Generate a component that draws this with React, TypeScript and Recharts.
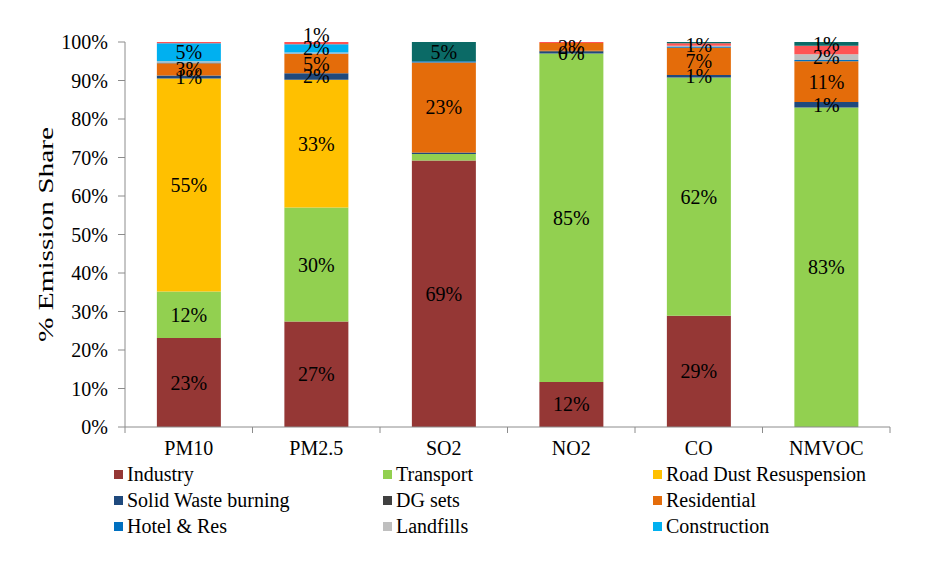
import React from 'react';
import { BarChart, Bar, XAxis, YAxis, LabelList } from 'recharts';

const categories = ['PM10', 'PM2.5', 'SO2', 'NO2', 'CO', 'NMVOC'];

const industry = [23.1, 27.4, 69.2, 11.7, 28.9, 0];
const transport = [12.1, 29.6, 1.7, 85.3, 61.9, 83.0];
const roadDust = [55.3, 33.2, 0, 0, 0, 0];
const solidWaste = [0.8, 1.7, 0.3, 0.45, 0.6, 1.4];
const dgSets = [0, 0, 0.1, 0.3, 0, 0];
const residential = [3.2, 5.0, 23.4, 2.0, 7.1, 10.6];
const hotelRes = [0.2, 0.1, 0.3, 0, 0.3, 0.3];
const landfills = [0.3, 0.3, 0, 0, 0.2, 1.5];
const construction = [4.7, 2.1, 0, 0, 0, 0];
const others = [0.3, 0.6, 0, 0.25, 0.7, 2.2];
const powerPlant = [0, 0, 5.0, 0, 0.3, 1.0];

const yTicks = [0, 10, 20, 30, 40, 50, 60, 70, 80, 90, 100];

// labels removed in the original figure
const hiddenLabels: [string, string][] = [
  ['SO2', 'transport'],
  ['NMVOC', 'others'],
];
// labels dragged above their segment in the original figure
const raisedLabels: [string, string][] = [['PM2.5', 'others']];

const series = [
  { key: 'industry', name: 'Industry', color: '#953735', values: industry, legend: true },
  { key: 'transport', name: 'Transport', color: '#92D050', values: transport, legend: true },
  { key: 'roadDust', name: 'Road Dust Resuspension', color: '#FFC000', values: roadDust, legend: true },
  { key: 'solidWaste', name: 'Solid Waste burning', color: '#1F497D', values: solidWaste, legend: true },
  { key: 'dgSets', name: 'DG sets', color: '#404040', values: dgSets, legend: true },
  { key: 'residential', name: 'Residential', color: '#E46C0A', values: residential, legend: true },
  { key: 'hotelRes', name: 'Hotel & Res', color: '#0070C0', values: hotelRes, legend: true },
  { key: 'landfills', name: 'Landfills', color: '#BFBFBF', values: landfills, legend: true },
  { key: 'construction', name: 'Construction', color: '#00B0F0', values: construction, legend: true },
  { key: 'others', name: 'Others', color: '#FF5454', values: others, legend: false },
  { key: 'powerPlant', name: 'Power Plant', color: '#0B6A66', values: powerPlant, legend: false },
];

const data = categories.map((name, i) => {
  const row: Record<string, any> = { name };
  series.forEach((s) => {
    const v = s.values[i];
    row[s.key] = v;
    const hidden = hiddenLabels.some(([c, k]) => c === name && k === s.key);
    const raised = raisedLabels.some(([c, k]) => c === name && k === s.key);
    row[s.key + 'Label'] = !hidden && v >= 0.4 ? (raised ? { v, raised: true } : { v, raised: false }) : null;
  });
  return row;
});

const FONT = '"Liberation Serif", "Times New Roman", serif';
const AXIS = '#8C8C8C';
const W = 930;
const H = 564;
const M = { top: 42, right: 40, left: 0, bottom: 107 };
const Y_W = 125;
const BAND = (W - M.left - M.right - Y_W) / categories.length;

const XTick = (props: any) => {
  const { x, y, payload, index } = props;
  const half = BAND / 2;
  return (
    <g>
      <line x1={x - half} x2={x - half} y1={y} y2={y + 6} stroke={AXIS} />
      {index === categories.length - 1 && (
        <line x1={x + half} x2={x + half} y1={y} y2={y + 6} stroke={AXIS} />
      )}
      <text x={x} y={y + 21} textAnchor="middle" dominantBaseline="central" fontSize={20} fontFamily={FONT} fill="#000">
        {payload.value}
      </text>
    </g>
  );
};

const YTitle = (props: any) => {
  const vb = props.viewBox || {};
  const cy = vb.y != null && vb.height != null ? vb.y + vb.height / 2 : 235;
  return (
    <text
      transform={`translate(46,${cy}) rotate(-90)`}
      textAnchor="middle"
      dominantBaseline="central"
      fontSize={21}
      fontFamily={FONT}
      fill="#000"
      textLength={215}
      lengthAdjust="spacingAndGlyphs"
    >
      % Emission Share
    </text>
  );
};

const SegLabel = (props: any) => {
  const { value } = props;
  if (value == null || typeof value !== 'object') return null;
  const vb = props.viewBox && props.viewBox.width != null ? props.viewBox : props;
  const cx = vb.x + vb.width / 2;
  const cy = vb.y + vb.height / 2 + (value.raised ? -8 : 0);
  return (
    <text x={cx} y={cy} textAnchor="middle" dominantBaseline="central" fontSize={20} fontFamily={FONT} fill="#000">
      {Math.round(value.v)}%
    </text>
  );
};

const legendCols = [114, 383, 653];
const legendRows = [474, 500, 526];

export default function App() {
  const legendItems = series.filter((s) => s.legend);
  return (
    <div style={{ position: 'absolute', left: 0, top: 0, width: W, height: H, background: '#fff' }}>
      <BarChart width={W} height={H} data={data} margin={M} barCategoryGap="25%">
        <XAxis
          dataKey="name"
          axisLine={{ stroke: AXIS }}
          tickLine={false}
          tickSize={0}
          tickMargin={0}
          height={30}
          interval={0}
          tick={<XTick />}
        />
        <YAxis
          width={Y_W}
          domain={[0, 100]}
          allowDataOverflow
          ticks={yTicks}
          interval={0}
          tickFormatter={(v: number) => `${v}%`}
          axisLine={{ stroke: AXIS }}
          tickLine={{ stroke: AXIS }}
          tickSize={7}
          tickMargin={10}
          tick={{ fill: '#000', fontSize: 20, fontFamily: FONT }}
          label={<YTitle />}
        />
        {series.map((s) => (
          <Bar key={s.key} dataKey={s.key} name={s.name} stackId="a" fill={s.color} isAnimationActive={false}>
            <LabelList dataKey={s.key + 'Label'} content={<SegLabel />} />
          </Bar>
        ))}
      </BarChart>
      {legendItems.map((s, i) => {
        const col = i % 3;
        const row = Math.floor(i / 3);
        return (
          <div
            key={s.key}
            style={{
              position: 'absolute',
              left: legendCols[col],
              top: legendRows[row] - 12,
              height: 24,
              display: 'flex',
              alignItems: 'center',
              fontFamily: FONT,
              fontSize: 20,
              color: '#000',
              whiteSpace: 'nowrap',
            }}
          >
            <span style={{ display: 'inline-block', width: 9, height: 9, background: s.color, marginRight: 4 }} />
            <span>{s.name}</span>
          </div>
        );
      })}
    </div>
  );
}
